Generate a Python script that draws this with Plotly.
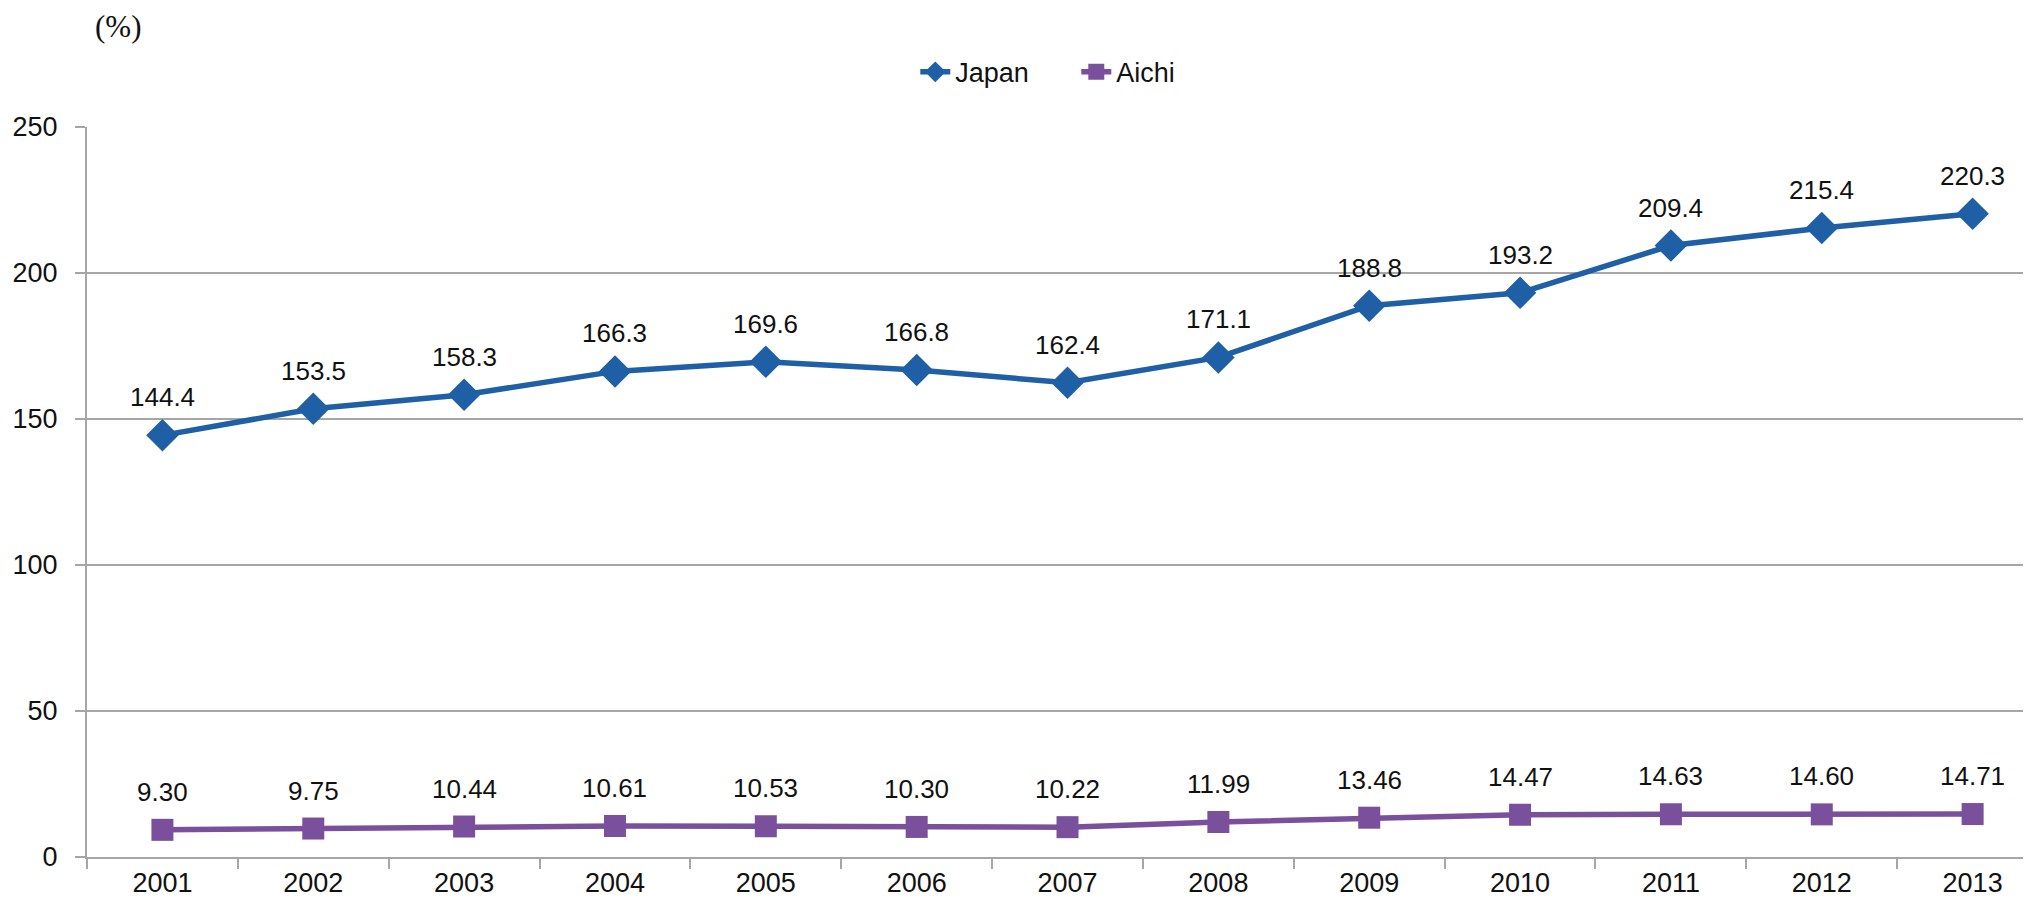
import plotly.graph_objects as go

# Data
years = ['2001', '2002', '2003', '2004', '2005', '2006', '2007',
         '2008', '2009', '2010', '2011', '2012', '2013']
japan = [144.4, 153.5, 158.3, 166.3, 169.6, 166.8, 162.4,
         171.1, 188.8, 193.2, 209.4, 215.4, 220.3]
aichi = [9.30, 9.75, 10.44, 10.61, 10.53, 10.30, 10.22,
         11.99, 13.46, 14.47, 14.63, 14.60, 14.71]
japan_labels = ['{:.1f}'.format(v) for v in japan]
aichi_labels = ['{:.2f}'.format(v) for v in aichi]
y_ticks = [0, 50, 100, 150, 200, 250]

blue = '#1F5FA6'
purple = '#7A4F9C'
grid = '#A6A6A6'
font = 'Liberation Sans, Arial, sans-serif'

fig = go.Figure()
fig.add_trace(go.Scatter(x=years, y=japan, name='Japan', mode='lines+markers',
                         line=dict(color=blue, width=5.5),
                         marker=dict(symbol='diamond', size=25, color=blue)))
fig.add_trace(go.Scatter(x=years, y=aichi, name='Aichi', mode='lines+markers',
                         line=dict(color=purple, width=5.5),
                         marker=dict(symbol='square', size=22, color=purple)))

# Data labels above each point (category axis -> use the category index)
annotations = []
for labels, vals in ((japan_labels, japan), (aichi_labels, aichi)):
    for i, (v, t) in enumerate(zip(vals, labels)):
        annotations.append(dict(x=i, y=v, xref='x', yref='y', text=t,
                                showarrow=False, yshift=38,
                                font=dict(size=26, color='#111')))

annotations.append(dict(xref='paper', yref='paper', x=0.003, y=1.137,
                        xanchor='left', yanchor='middle', text='(%)',
                        showarrow=False,
                        font=dict(family='Liberation Serif, Times New Roman, serif',
                                  size=31, color='#111')))

# page body has an 8px margin, so the figure is sized to fit inside it
fig.update_layout(
    width=2015, height=891,
    margin=dict(l=79, r=0, t=119, b=42, autoexpand=False),
    paper_bgcolor='white', plot_bgcolor='white',
    font=dict(family=font, size=27, color='#111'),
    showlegend=True,
    legend=dict(orientation='h', x=0.511, xanchor='center', y=1.075,
                yanchor='middle', font=dict(size=27),
                entrywidth=116, entrywidthmode='pixels'),
    annotations=annotations,
)
fig.update_xaxes(type='category', range=[-0.5, 12.334], automargin=False,
                 showgrid=False, showline=True, linecolor=grid, linewidth=2,
                 ticks='outside', tickson='boundaries', ticklen=10,
                 tickcolor=grid, tickwidth=2, ticklabelstandoff=1)
fig.update_yaxes(range=[0, 250], tickvals=y_ticks, showgrid=True,
                 automargin=False,
                 gridcolor=grid, gridwidth=2, zeroline=False,
                 showline=True, linecolor=grid, linewidth=2,
                 ticks='outside', ticklen=10, tickcolor=grid, tickwidth=2,
                 ticklabelstandoff=12)

fig.write_html('out.html')
